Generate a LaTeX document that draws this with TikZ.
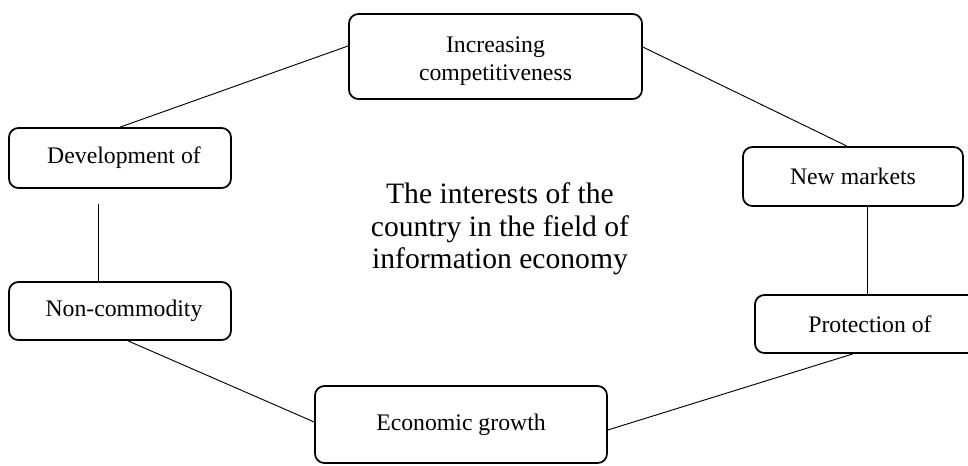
\documentclass[tikz,border=0pt]{standalone}
\usepackage{fontspec}
\setmainfont{Liberation Serif}
\begin{document}
\begin{tikzpicture}[x=0.75pt,y=-0.75pt,
  box/.style={draw=black, line width=1.3pt, rounded corners=7pt, align=center,
    inner sep=0pt, font=\fontsize{17.8}{21}\selectfont},
  link/.style={draw=black, line width=0.7pt},
  title/.style={align=center, font=\fontsize{22.2}{24.4}\selectfont}]
\useasboundingbox (0,0) rectangle (968,465);
\clip (0,0) rectangle (968,465);

% outer ring of interests
\node[box, minimum width=219.75pt, minimum height=63.75pt] (inc) at (495.5,56.5)
  {\begin{tabular}{@{}c@{}}\rule{0pt}{21.7pt}Increasing\\competitiveness\end{tabular}};
\node[box, minimum width=166.5pt, minimum height=45pt] (dev) at (120,158)
  {\hspace{6pt}Development of};
\node[box, minimum width=165pt, minimum height=44.25pt] (nm) at (853,176.5)
  {New markets};
\node[box, minimum width=166.5pt, minimum height=43.5pt] (nc) at (120,311)
  {\hspace{6pt}Non-commodity};
\node[box, minimum width=172.5pt, minimum height=43.5pt] (prot) at (870,324)
  {Protection of};
\node[box, minimum width=219pt, minimum height=57.75pt] (eco) at (461,424.5)
  {Economic growth};

% central statement
\node[title] (core) at (500,229)
  {The interests of the\\country in the field of\\information economy};

% connectors
\draw[link] (dev.north) -- ([yshift=7.9pt]inc.west);
\draw[link] ([yshift=7.1pt]inc.east) -- ([xshift=-4.5pt]nm.north);
\coordinate (nmfoot) at ([xshift=10.5pt]nm.south);
\draw[link] (nmfoot) -- (nmfoot |- prot.north);
\draw[link] ([xshift=-12.75pt]prot.south) -- ([yshift=-4.1pt]eco.east);
\draw[link] ([xshift=6pt]nc.south) -- ([yshift=1.9pt]eco.west);
\coordinate (devgap) at (98,204);
\draw[link] (devgap) -- (devgap |- nc.north);
\end{tikzpicture}
\end{document}
